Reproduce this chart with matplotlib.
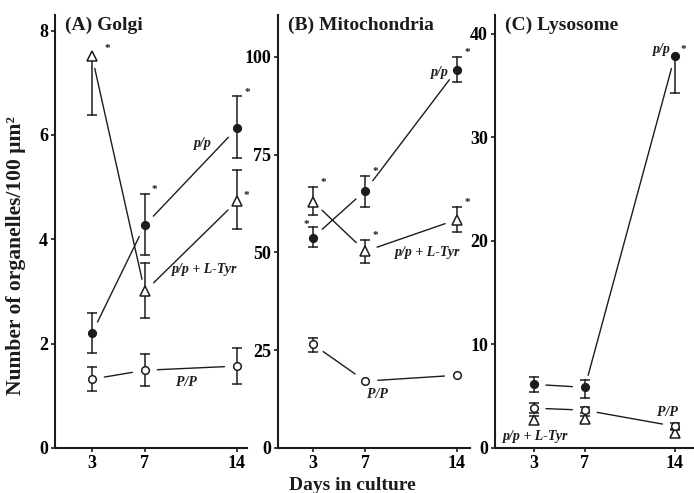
import numpy as np
import matplotlib.pyplot as plt

plt.rcParams['font.family'] = ['Liberation Serif', 'DejaVu Serif']
plt.rcParams['font.weight'] = 'bold'

ink = '#1c1c1c'

days = [3, 7, 14]
titles = ["(A) Golgi", "(B) Mitochondria", "(C) Lysosome"]
yticks = [[0, 2, 4, 6, 8], [0, 25, 50, 75, 100], [0, 10, 20, 30, 40]]

# values: mean, lower error, upper error
golgi_pp = [2.2, 4.27, 6.13]
golgi_pp_lo = [0.37, 0.57, 0.58]
golgi_pp_hi = [0.38, 0.6, 0.61]
golgi_tyr = [7.51, 3.0, 4.73]
golgi_tyr_lo = [1.13, 0.5, 0.53]
golgi_tyr_hi = [0.0, 0.55, 0.6]
golgi_PP = [1.32, 1.49, 1.57]
golgi_PP_lo = [0.23, 0.3, 0.35]
golgi_PP_hi = [0.23, 0.31, 0.35]

mito_pp = [53.8, 65.8, 96.7]
mito_pp_lo = [2.5, 4.1, 3.1]
mito_pp_hi = [2.6, 3.8, 3.3]
mito_tyr = [63.0, 50.3, 58.4]
mito_tyr_lo = [3.5, 2.9, 3.3]
mito_tyr_hi = [3.8, 3.0, 3.3]
mito_PP = [26.5, 17.1, 18.6]
mito_PP_lo = [2.0, 0.0, 0.0]
mito_PP_hi = [1.6, 0.0, 0.0]

lyso_pp = [6.15, 5.85, 37.8]
lyso_pp_lo = [0.75, 1.05, 3.5]
lyso_pp_hi = [0.75, 0.75, 0.0]
lyso_tyr = [2.7, 2.8, 1.45]
lyso_tyr_lo = [0.4, 0.3, 0.3]
lyso_tyr_hi = [0.4, 0.3, 0.3]
lyso_PP = [3.85, 3.65, 2.1]
lyso_PP_lo = [0.45, 0.3, 0.3]
lyso_PP_hi = [0.45, 0.3, 0.3]

panels = [
    {"pp": (golgi_pp, golgi_pp_lo, golgi_pp_hi),
     "tyr": (golgi_tyr, golgi_tyr_lo, golgi_tyr_hi),
     "PP": (golgi_PP, golgi_PP_lo, golgi_PP_hi)},
    {"pp": (mito_pp, mito_pp_lo, mito_pp_hi),
     "tyr": (mito_tyr, mito_tyr_lo, mito_tyr_hi),
     "PP": (mito_PP, mito_PP_lo, mito_PP_hi)},
    {"pp": (lyso_pp, lyso_pp_lo, lyso_pp_hi),
     "tyr": (lyso_tyr, lyso_tyr_lo, lyso_tyr_hi),
     "PP": (lyso_PP, lyso_PP_lo, lyso_PP_hi)},
]
connected = [["pp", "tyr", "PP"], ["pp", "tyr", "PP"], ["pp", "PP"]]

# significant points (series, day index)
stars = [
    [("tyr", 0), ("pp", 1), ("pp", 2), ("tyr", 2)],
    [("tyr", 0), ("pp", 0), ("pp", 1), ("pp", 2), ("tyr", 1), ("tyr", 2)],
    [("pp", 2)],
]
# star offset in pixels from top of error bar (dx, dy up)
star_shift = {(0, "tyr", 0): (15, 10), (0, "tyr", 2): (9, -23),
              (1, "pp", 0): (-7, 6), (2, "pp", 2): (9, 10)}

# series labels: text, x, y, horizontal alignment
labels = [
    [("p/p", 11.4, 5.84, "center"), ("p/p + L-Tyr", 9.1, 3.43, "left"),
     ("P/P", 10.2, 1.25, "center")],
    [("p/p", 12.7, 95.9, "center"), ("p/p + L-Tyr", 9.3, 50.0, "left"),
     ("P/P", 7.9, 13.8, "center")],
    [("p/p", 13.0, 38.5, "center"), ("P/P", 13.4, 3.4, "center"),
     ("p/p + L-Tyr", 0.6, 1.15, "left")],
]

styles = {"pp": dict(marker="o", mfc=ink, ms=5.5),
          "tyr": dict(marker="^", mfc="white", ms=6.5),
          "PP": dict(marker="o", mfc="white", ms=5.5)}

W, H = 694, 493
boxes = [(55, 247), (278, 470), (495, 694)]
xlims = [(0.19, 14.76), (0.33, 15.0), (0.0, 15.5)]
ytops = [8.3, 110.7, 41.8]
bot_px, top_px = 448, 15

fig = plt.figure(figsize=(W / 100, H / 100), dpi=100)

for i in range(3):
    l, r = boxes[i]
    ax = fig.add_axes([l / W, (H - bot_px) / H, (r - l) / W, (bot_px - top_px) / H])
    ax.set_xlim(*xlims[i])
    ax.set_ylim(0, ytops[i])
    for s in ("top", "right"):
        ax.spines[s].set_visible(False)
    for s in ("left", "bottom"):
        ax.spines[s].set_linewidth(1.5)
        ax.spines[s].set_color(ink)
    ax.set_xticks(days)
    ax.set_yticks(yticks[i])
    ax.tick_params(length=3, width=1.2, color=ink, labelsize=13, pad=2)

    data = panels[i]
    for key, (vals, lo, hi) in data.items():
        for x, v, a, b in zip(days, vals, lo, hi):
            ax.plot([x, x], [v - a, v + b], color=ink, lw=1.1, zorder=2)
            for e, sgn in ((a, -1), (b, 1)):
                if e > 0:
                    ax.plot(x, v + sgn * e, marker="_", ms=7.5, mew=1.1, color=ink, zorder=2)
        ax.plot(days, vals, ls="none", mec=ink, mew=1.1, zorder=3, **styles[key])
        if key in connected[i]:
            for j in range(len(days) - 1):
                ax.annotate("", xy=(days[j + 1], vals[j + 1]), xytext=(days[j], vals[j]),
                            arrowprops=dict(arrowstyle="-", color=ink, lw=1.0,
                                            shrinkA=9, shrinkB=9))

    for key, j in stars[i]:
        vals, lo, hi = data[key]
        dx, dy = star_shift.get((i, key, j), (10, 7))
        ax.annotate("*", xy=(days[j], vals[j] + hi[j]),
                    xytext=(dx * 0.72, dy * 0.72 - 2), textcoords="offset points",
                    ha="center", va="center", fontsize=8, color=ink)

    for txt, x, y, ha in labels[i]:
        ax.text(x, y, txt, ha=ha, va="center", fontsize=10, style="italic",
                color=ink)

    ax.annotate(titles[i], xy=(0, 1), xycoords="axes fraction",
                xytext=(7, -1), textcoords="offset points",
                ha="left", va="top", fontsize=14, color=ink)

fig.text(352 / W, 1 - 485 / H, "Days in culture", ha="center", va="center",
         fontsize=14, color=ink)
fig.text(16 / W, 1 - 256 / H, "Number of organelles/100 μm²", rotation=90,
         ha="center", va="center", fontsize=15.5, color=ink)

fig.savefig("out.png", dpi=100)
